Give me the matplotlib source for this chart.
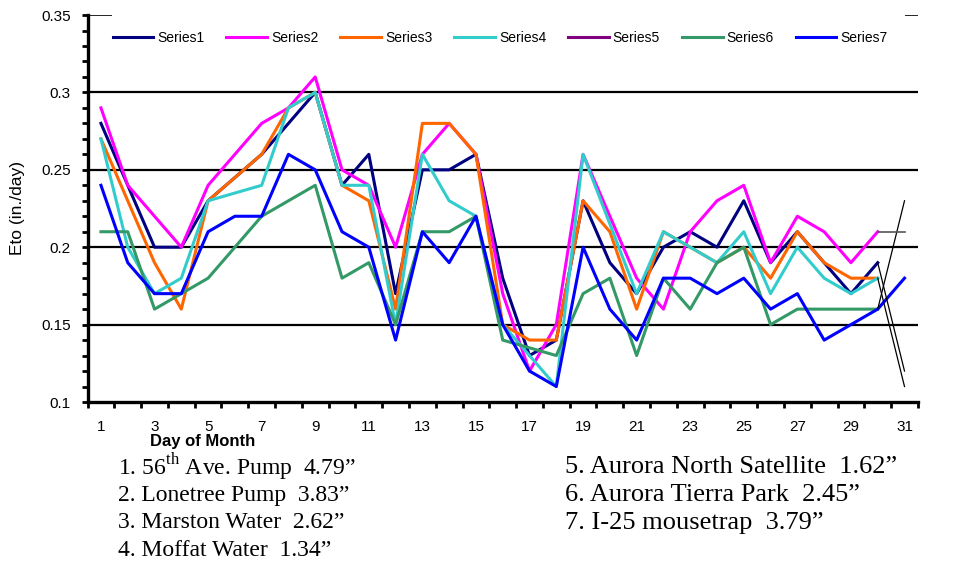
import numpy as np
import matplotlib
matplotlib.use('Agg')
import matplotlib.pyplot as plt
from matplotlib.ticker import MultipleLocator, FixedLocator

plt.rcParams['font.family'] = ['Liberation Sans', 'DejaVu Sans']
plt.rcParams['mathtext.fontset'] = 'custom'
plt.rcParams['mathtext.rm'] = 'Liberation Serif'

nan = np.nan
days = list(range(1, 32))

s1 = [0.28, 0.24, 0.20, 0.20, 0.23, 0.245, 0.26, 0.28, 0.30, 0.24, 0.26, 0.17, 0.25, 0.25, 0.26, 0.18,
      0.13, 0.14, 0.23, 0.19, 0.17, 0.20, 0.21, 0.20, 0.23, 0.19, 0.21, 0.19, 0.17, 0.19, nan]
s2 = [0.29, 0.24, 0.22, 0.20, 0.24, 0.26, 0.28, 0.29, 0.31, 0.25, 0.24, 0.20, 0.26, 0.28, 0.26, 0.17,
      0.12, 0.15, 0.26, 0.22, 0.18, 0.16, 0.21, 0.23, 0.24, 0.19, 0.22, 0.21, 0.19, 0.21, nan]
s3 = [0.27, 0.23, 0.19, 0.16, 0.23, 0.245, 0.26, 0.29, 0.30, 0.24, 0.23, 0.16, 0.28, 0.28, 0.26, 0.15,
      0.14, 0.14, 0.23, 0.21, 0.16, 0.21, 0.20, 0.19, 0.20, 0.18, 0.21, 0.19, 0.18, 0.18, nan]
s4 = [0.27, 0.20, 0.17, 0.18, 0.23, 0.235, 0.24, 0.29, 0.30, 0.24, 0.24, 0.15, 0.26, 0.23, 0.22, 0.15,
      0.13, 0.11, 0.26, 0.215, 0.17, 0.21, 0.20, 0.19, 0.21, 0.17, 0.20, 0.18, 0.17, 0.18, nan]
s5 = []  # no values visible for Series5
s6 = [0.21, 0.21, 0.16, 0.17, 0.18, 0.20, 0.22, 0.23, 0.24, 0.18, 0.19, 0.15, 0.21, 0.21, 0.22, 0.14,
      0.135, 0.13, 0.17, 0.18, 0.13, 0.18, 0.16, 0.19, 0.20, 0.15, 0.16, 0.16, 0.16, 0.16, nan]
s7 = [0.24, 0.19, 0.17, 0.17, 0.21, 0.22, 0.22, 0.26, 0.25, 0.21, 0.20, 0.14, 0.21, 0.19, 0.22, 0.15,
      0.12, 0.11, 0.20, 0.16, 0.14, 0.18, 0.18, 0.17, 0.18, 0.16, 0.17, 0.14, 0.15, 0.16, 0.18]

series = [s1, s2, s3, s4, s5, s6, s7]
names = ['Series1', 'Series2', 'Series3', 'Series4', 'Series5', 'Series6', 'Series7']
colors = ['#000080', '#FF00FF', '#FF6600', '#33CCCC', '#800080', '#339966', '#0000FF']

# stray thin lines between day 30 and 31
stray_x = [30, 31]
stray_black = [[0.19, 0.12], [0.18, 0.11], [0.16, 0.23]]
stray_gray = [0.21, 0.21]

notes_left = [r'1. 56$^{\mathrm{th}}$ Ave. Pump  4.79”', '2. Lonetree Pump  3.83”',
              '3. Marston Water  2.62”', '4. Moffat Water  1.34”']
notes_right = ['5. Aurora North Satellite  1.62”', '6. Aurora Tierra Park  2.45”',
               '7. I-25 mousetrap  3.79”']

fig = plt.figure(figsize=(9.74, 5.67), dpi=100)
ax = fig.add_axes([0.0899, 0.291, 0.8525, 0.6825])

for v in [0.15, 0.2, 0.25, 0.3]:
    ax.axhline(v, color='black', lw=1.6, zorder=1)
ax.hlines(0.35, 0.5, 1.4, color='black', lw=1.2)
ax.hlines(0.35, 31.0, 31.5, color='black', lw=1.2)

for s, n, c in zip(series, names, colors):
    if len(s):
        ax.plot(days, s, color=c, lw=2.2, label=n, zorder=3)
    else:
        ax.plot([], [], color=c, lw=2.2, label=n)

for yy in stray_black:
    ax.plot(stray_x, yy, color='black', lw=0.9, zorder=4)
ax.plot(stray_x, stray_gray, color='#555555', lw=1.2, zorder=4)

ax.set_xlim(0.5, 31.5)
ax.set_ylim(0.1, 0.35)
ax.set_yticks([0.1, 0.15, 0.2, 0.25, 0.3, 0.35])
ax.set_yticklabels(['0.1', '0.15', '0.2', '0.25', '0.3', '0.35'])
ax.yaxis.set_minor_locator(MultipleLocator(0.01))
ax.set_xticks(range(1, 32, 2))
ax.xaxis.set_minor_locator(FixedLocator(np.arange(0.5, 32, 1)))

ax.tick_params(axis='y', which='both', direction='out', length=4, width=2, labelsize=11, pad=8)
ax.tick_params(axis='x', which='major', length=0, labelsize=11, pad=13)
ax.tick_params(axis='x', which='minor', direction='out', length=4, width=2)

for side in ['top', 'right']:
    ax.spines[side].set_visible(False)
for side in ['left', 'bottom']:
    ax.spines[side].set_linewidth(2.4)

ax.legend(loc='center', bbox_to_anchor=(0.497, 0.94), ncol=7, frameon=False, fontsize=10,
          handlelength=2.9, handletextpad=0.3, columnspacing=1.6)

fig.text(0.018, 0.633, 'Eto (in./day)', rotation=90, ha='center', va='center', fontsize=12.5)
fig.text(0.2084, 0.222, 'Day of Month', ha='center', va='center', fontsize=12, fontweight='bold')

for i, t in enumerate(notes_left):
    fig.text(0.121, 1 - (467 + 28 * i) / 567, t, ha='left', va='center',
             family='Liberation Serif', fontsize=17)
for i, t in enumerate(notes_right):
    fig.text(0.58, 1 - (467 + 28 * i) / 567, t, ha='left', va='center',
             family='Liberation Serif', fontsize=19)

fig.savefig('out.png', dpi=100)
